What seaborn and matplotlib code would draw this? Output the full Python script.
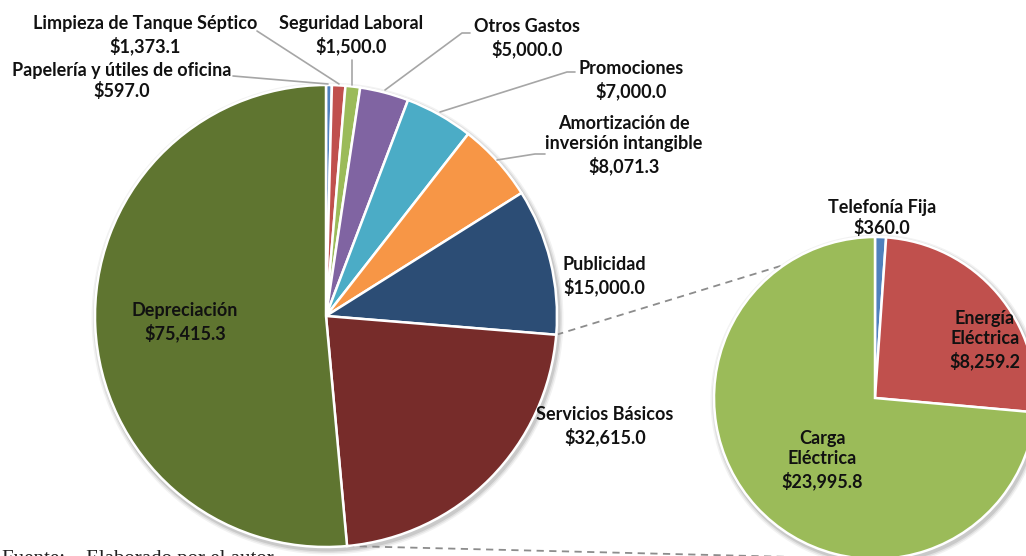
import numpy as np
import seaborn as sns
import matplotlib.pyplot as plt
from matplotlib.patches import Circle

sns.set_theme(style="white")
plt.rcParams['font.family'] = ['Lato', 'DejaVu Sans']

# main pie (order clockwise from the top)
main_labels = ["Papelería y útiles de oficina", "Limpieza de Tanque Séptico", "Seguridad Laboral",
               "Otros Gastos", "Promociones", "Amortización de\ninversión intangible",
               "Publicidad", "Servicios Básicos", "Depreciación"]
main_values = [597.0, 1373.1, 1500.0, 5000.0, 7000.0, 8071.3, 15000.0, 32615.0, 75415.3]
main_colors = ["#4F81BD", "#C0504D", "#9BBB59", "#8064A2", "#4BACC6", "#F79646",
               "#2C4D75", "#772C2A", "#5F7530"]

# breakdown of "Servicios Básicos"
sub_labels = ["Telefonía Fija", "Energía\nEléctrica", "Carga\nEléctrica"]
sub_values = [360.0, 8259.2, 23995.8]
sub_colors = ["#4F81BD", "#C0504D", "#9BBB59"]

W, H = 1026, 556
fig = plt.figure(figsize=(W / 100, H / 100), dpi=100)
ax = fig.add_axes([0, 0, 1, 1])

c1, r1 = (326, H - 316), 231
c2, r2 = (875, H - 398), 161

# soft shadows
for c, r in [(c1, r1), (c2, r2)]:
    for k, a in [(5, 0.05), (3.5, 0.07), (2, 0.1)]:
        ax.add_patch(Circle((c[0] + 1.5, c[1] - 2.5), r + k, color="black", alpha=a, lw=0, zorder=0))

wp = dict(edgecolor="white", linewidth=1.8)
ax.pie(main_values, colors=main_colors, startangle=90, counterclock=False,
       center=c1, radius=r1, wedgeprops=wp, frame=True)
ax.pie(sub_values, colors=sub_colors, startangle=90, counterclock=False,
       center=c2, radius=r2, wedgeprops=wp, frame=True)

ax.set_xlim(0, W)
ax.set_ylim(0, H)
ax.set_aspect("equal")
ax.axis("off")


def fmt(v):
    return f"${v:,.1f}"


txt = dict(ha="center", va="center", fontsize=13, fontweight="bold", color="#111111", linespacing=1.25)

# label positions (pixel coords, y from top)
main_pos = [(122, 81), (145, 35), (351, 35), (527, 38), (631, 80), (624, 145),
            (604, 276), (605, 426), (185, 322)]
for lab, v, (x, y) in zip(main_labels, main_values, main_pos):
    ax.text(x, H - y, f"{lab}\n{fmt(v)}", **txt)

sub_pos = [(882, 218), (985, 340), (822, 460)]
for lab, v, (x, y) in zip(sub_labels, sub_values, sub_pos):
    ax.text(x, H - y, f"{lab}\n{fmt(v)}", **txt)

# leader lines
leaders = [
    [(233, 76), (328, 84)],
    [(257, 31), (339, 84)],
    [(352, 60), (352, 85)],
    [(470, 33), (462, 33), (385, 90)],
    [(575, 72), (567, 72), (440, 112)],
    [(545, 154), (535, 154), (497, 160)],
]
for pts in leaders:
    xs = [p[0] for p in pts]
    ys = [H - p[1] for p in pts]
    ax.plot(xs, ys, color="#A6A6A6", lw=1.2, zorder=3)

# connector lines between the pies
tot = sum(main_values)
a_top = np.deg2rad(90 - 360 * sum(main_values[:7]) / tot)
a_bot = np.deg2rad(90 - 360 * sum(main_values[:8]) / tot)
p_top = (c1[0] + r1 * np.cos(a_top), c1[1] + r1 * np.sin(a_top))
p_bot = (c1[0] + r1 * np.cos(a_bot), c1[1] + r1 * np.sin(a_bot))
ax.plot([p_top[0], c2[0]], [p_top[1], c2[1] + r2], ls=(0, (4, 3)), color="#8C8C8C", lw=1.3, zorder=0.5)
ax.plot([p_bot[0], c2[0]], [p_bot[1], c2[1] - r2], ls=(0, (4, 3)), color="#8C8C8C", lw=1.3, zorder=0.5)

# source note (cut off at the bottom edge, as in the original crop)
ax.text(2, H - 550, "Fuente:    Elaborado por el autor", ha="left", va="top",
        fontsize=15, family="Liberation Serif", color="#222222")

fig.savefig("out.png", dpi=100)
